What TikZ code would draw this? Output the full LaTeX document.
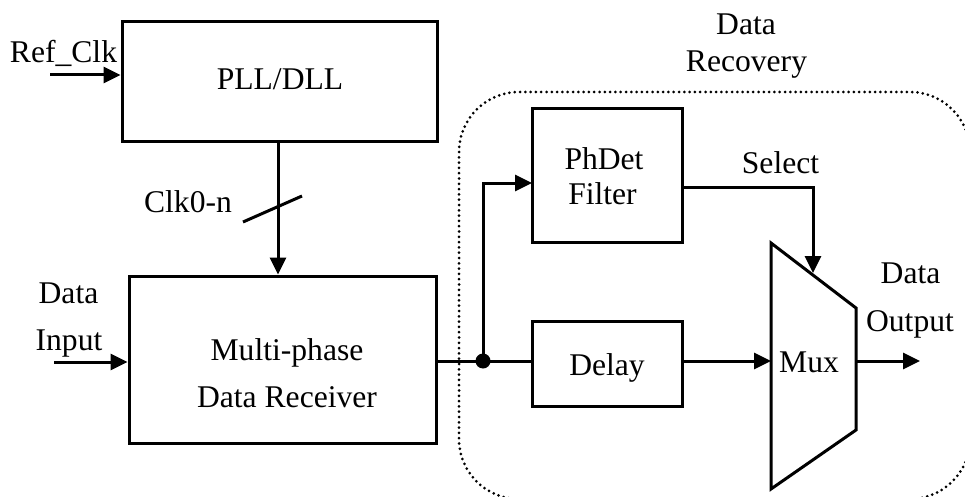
\documentclass[tikz,border=0pt]{standalone}
\usepackage{fontspec}
\setmainfont{Liberation Serif}
\usetikzlibrary{arrows.meta}
\tikzset{
  blk/.style={draw, rectangle, line width=3pt, inner sep=0pt},
  lbl/.style={anchor=base, inner sep=0pt, font=\fontsize{31.6}{36}\selectfont},
  wire/.style={line width=3pt},
  arr/.style={line width=3pt, -{Triangle[length=17pt,width=16pt]}},
  dots/.style={line width=3pt, line cap=round, dash pattern=on 0pt off 5.3pt}
}
\begin{document}
\begin{tikzpicture}[x=1pt,y=-1pt]
\useasboundingbox (0,0) rectangle (965,497);

% dotted frame of the data recovery section
\begin{scope}
  \clip (0,0) rectangle (965,497);
  \draw[dots, rounded corners=60pt] (459,92) rectangle (970,499);
\end{scope}

% blocks
\node[blk, minimum width=315pt, minimum height=120pt] (pll)   at (279.5,82) {};
\node[blk, minimum width=307pt, minimum height=167pt] (multi) at (282.5,359.5) {};
\node[blk, minimum width=150pt, minimum height=133pt] (phdet) at (607,175.5) {};
\node[blk, minimum width=150pt, minimum height=85pt]  (delay) at (607,363.5) {};

% multiplexer outline
\coordinate (m1) at (771,243);
\coordinate (m2) at (856,308);
\coordinate (m3) at (856,430);
\coordinate (m4) at (771,489);
\draw[wire, line join=miter] (m1) -- (m2) -- (m3) -- (m4) -- cycle;

% junction dot
\node[circle, fill, minimum size=15pt, inner sep=0pt] (jn) at (483,361) {};

% connector end points
\coordinate (refin) at (50,75);
\coordinate (din)   at (54,362);
\coordinate (clkx)  at (278,0);
\coordinate (phin)  at (532,183);
\coordinate (selout) at (682,187);
\coordinate (selin)  at (813,273);
\coordinate (muxin)  at (771,361);
\coordinate (muxout) at (856,361);
\coordinate (dout)   at (920,361);
\coordinate (sl1) at (243,222);
\coordinate (sl2) at (302,196);

% connectors
\draw[arr] (refin) -- (refin -| pll.west);
\draw[arr] (din) -- (din -| multi.west);
\draw[arr] (pll.south -| clkx) -- (multi.north -| clkx);
\draw[wire] (sl1) -- (sl2);
\draw[wire] (multi.east |- jn) -- (jn.center) -- (jn -| delay.west);
\draw[arr] (jn.center) |- (phin);
\draw[arr] (selout) -| (selin);
\draw[arr] (delay.east |- muxin) -- (muxin);
\draw[arr] (muxout) -- (dout);

% labels
\node[lbl] (tref)  at (63.5,63) {Ref\_Clk};
\node[lbl] (tpll)  at (280,90) {PLL/DLL};
\node[lbl] (tclk)  at (188,212) {Clk0-n};
\node[lbl] (tdi1)  at (68.5,303) {Data};
\node[lbl] (tdi2)  at (69,350) {Input};
\node[lbl] (tmr1)  at (287,360) {Multi-phase};
\node[lbl] (tmr2)  at (287,407) {Data Receiver};
\node[lbl] (tdr1)  at (746,35) {Data};
\node[lbl] (tdr2)  at (746.5,72) {Recovery};
\node[lbl] (tph1)  at (604,169) {PhDet};
\node[lbl] (tph2)  at (602.5,204) {Filter};
\node[lbl] (tsel)  at (780.5,174) {Select};
\node[lbl] (tdel)  at (607,375) {Delay};
\node[lbl] (tmux)  at (809,372) {Mux};
\node[lbl] (tdo1)  at (910.5,283) {Data};
\node[lbl] (tdo2)  at (910,331) {Output};
\end{tikzpicture}
\end{document}
